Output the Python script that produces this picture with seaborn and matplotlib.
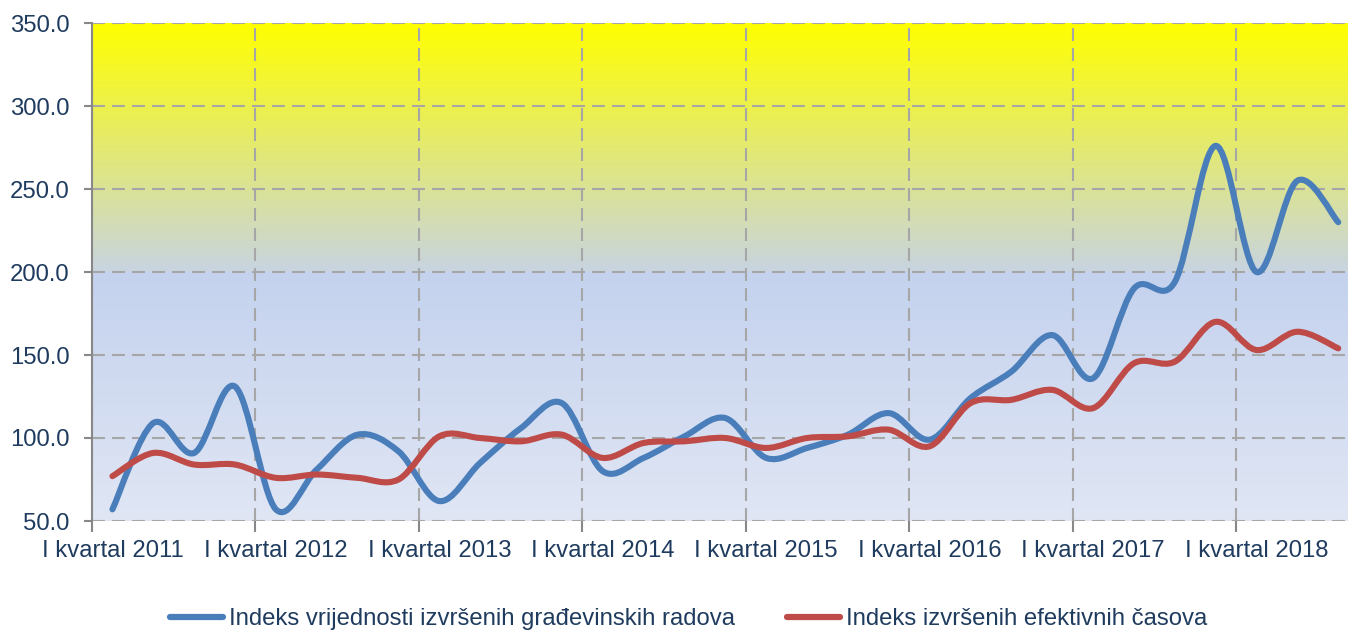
import numpy as np
import matplotlib
matplotlib.use("Agg")
import matplotlib.pyplot as plt
import seaborn as sns
from matplotlib.path import Path
from matplotlib.patches import PathPatch
from matplotlib.lines import Line2D

# quarterly indices, I kvartal 2011 .. III kvartal 2018
quarters = [f"{q} kvartal {yr}" for yr in range(2011, 2019)
            for q in ["I", "II", "III", "IV"]][:31]
vrijednost = [57, 109, 91, 131, 57, 81, 102, 92, 62, 85, 106, 121, 80, 88, 101, 112,
              88, 94, 102, 115, 99, 124, 140, 162, 136, 190, 194, 276, 200, 255, 230]
casovi = [77, 91, 84, 84, 76, 78, 76, 75, 101, 100, 98, 102, 88, 97, 98, 100,
          94, 100, 101, 105, 95, 121, 123, 129, 118, 145, 146, 170, 153, 164, 154]
series_names = ["Indeks vrijednosti izvršenih građevinskih radova",
                "Indeks izvršenih efektivnih časova"]
series_colors = ["#4A7EBB", "#BE4B48"]
y_ticks = [50, 100, 150, 200, 250, 300, 350]

TEXT = "#1F3B5E"
GRID = "#A6A6A6"
SPINE = "#888888"
FS = 17.2

sns.set_theme(style="white")
plt.rcParams["font.family"] = ["Liberation Sans", "DejaVu Sans"]


def smooth_path(xs, ys):
    """Excel-like smoothed line: Catmull-Rom segments as cubic Bezier curves."""
    n = len(xs)
    verts = [(xs[0], ys[0])]
    codes = [Path.MOVETO]
    for i in range(n - 1):
        a = i - 1 if i > 0 else i
        d = i + 2 if i + 2 < n else i + 1
        c1 = (xs[i] + (xs[i + 1] - xs[a]) / 6, ys[i] + (ys[i + 1] - ys[a]) / 6)
        c2 = (xs[i + 1] - (xs[d] - xs[i]) / 6, ys[i + 1] - (ys[d] - ys[i]) / 6)
        verts += [c1, c2, (xs[i + 1], ys[i + 1])]
        codes += [Path.CURVE4] * 3
    return Path(verts, codes)


fig = plt.figure(figsize=(13.48, 6.3), dpi=100)
ax = fig.add_axes([92 / 1348, 109 / 630, (31 * 40.86) / 1348, 498 / 630])

n = len(quarters)
x = np.arange(n)

# background gradient: blue below 200, blue->yellow above
rows = np.linspace(50, 350, 600)
low_a, low_b = np.array([224, 230, 244]), np.array([196, 210, 238])
up_a, up_b = np.array([200, 212, 226]), np.array([255, 255, 0])
img = np.zeros((len(rows), 1, 3))
for k, v in enumerate(rows):
    if v < 200:
        t = (v - 50) / 150
        c = low_a + (low_b - low_a) * t
    else:
        t = (v - 200) / 150
        c = up_a + (up_b - up_a) * t
    img[k, 0] = c / 255
ax.imshow(img, extent=(-0.5, n - 0.5, 50, 350), origin="lower",
          aspect="auto", zorder=0, interpolation="bilinear")

for vals, col in zip([vrijednost, casovi], series_colors):
    patch = PathPatch(smooth_path(x, np.array(vals, dtype=float)), fill=False,
                      edgecolor=col, lw=4.4, capstyle="round",
                      joinstyle="round", zorder=3)
    ax.add_patch(patch)

ax.set_xlim(-0.5, n - 0.5)
ax.set_ylim(50, 350)

# year boundaries carry gridlines, quarter centres carry labels
ax.set_xticks(np.arange(-0.5, n - 0.5, 4))
ax.set_xticklabels([])
ax.set_xticks(x[::4], minor=True)
ax.set_xticklabels(quarters[::4], minor=True)
ax.set_yticks(y_ticks)
ax.set_yticklabels([f"{v:.1f}" for v in y_ticks])

ax.tick_params(axis="x", which="major", direction="out", length=8,
               width=1.5, color=SPINE, bottom=True)
ax.tick_params(axis="x", which="minor", length=0, pad=14,
               labelsize=FS, labelcolor=TEXT)
ax.tick_params(axis="y", direction="out", length=6, width=1.5, color=SPINE,
               left=True, labelsize=FS, labelcolor=TEXT, pad=10)

dash = (0, (6.2, 3.4))
ax.grid(True, which="major", color=GRID, lw=1.5, linestyle=dash)
ax.set_axisbelow(False)
for gl in ax.get_xgridlines() + ax.get_ygridlines():
    gl.set_zorder(1)

for s in ["top", "right", "bottom"]:
    ax.spines[s].set_visible(False)
ax.spines["left"].set_color(SPINE)
ax.spines["left"].set_linewidth(1.5)
ax.spines["left"].set_zorder(4)

handles = [Line2D([], [], color=c, lw=4.5, solid_capstyle="round")
           for c in series_colors]
fig.legend(handles, series_names, loc="center", bbox_to_anchor=(0.511, 0.017),
           ncol=2, frameon=False, fontsize=FS, labelcolor=TEXT,
           handlelength=2.2, handletextpad=0.25, columnspacing=2.2)

fig.savefig("out.png", dpi=100)
